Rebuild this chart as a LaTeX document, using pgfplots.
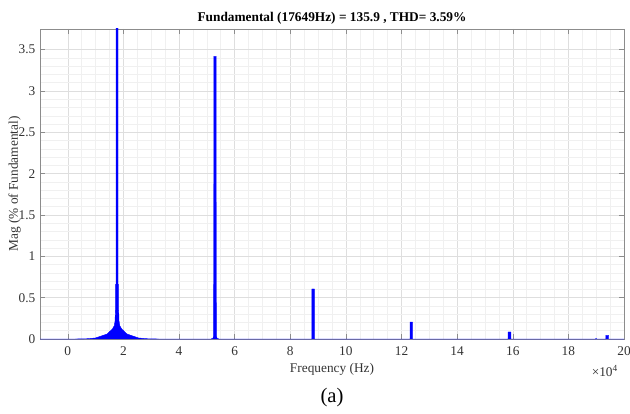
\documentclass[border=0pt]{standalone}
\usepackage{fontspec}
\setmainfont{Liberation Serif}
\usepackage{pgfplots}
\pgfplotsset{compat=1.18}
\begin{document}
\begin{tikzpicture}
\begin{axis}[
  name=ax,
  scale only axis, width=438pt, height=232.5pt,
  xmin=-1, xmax=20, ymin=0, ymax=3.75,
  xtick={0,2,...,20}, ytick={0,0.5,1,1.5,2,2.5,3,3.5},
  minor x tick num=3, minor y tick num=4,
  grid=both,
  major grid style={black!13, line width=0.4pt},
  minor grid style={black!6, line width=0.4pt},
  tick align=inside,
  major tick length=3.5pt, minor tick length=0pt,
  axis line style={black!45},
  tick style={black!45, line width=0.4pt},
  /pgf/number format/assume math mode=true,
  ticklabel style={font=\fontsize{10}{12}\selectfont, text=black!80},
  xticklabel style={yshift=-2pt},
  xlabel={Frequency (Hz)},
  xlabel style={font=\fontsize{10}{12}\selectfont, text=black!80, yshift=1pt},
  ylabel={Mag (\% of Fundamental)},
  ylabel style={font=\fontsize{10}{12}\selectfont, text=black!80, at={(rel axis cs:0,0.5)}, anchor=center, yshift=19pt},
  title={\bfseries Fundamental (17649Hz) = 135.9 , THD= 3.59\%},
  title style={font=\fontsize{10}{12}\selectfont, yshift=-6pt},
]
\addplot[draw=blue, fill=blue, line width=0.3pt] coordinates {
  (-1,0) (0.27,0) (0.67,0.003) (0.99,0.012) (1.41,0.06) (1.6,0.12) (1.67,0.16) (1.70,0.22)
  (1.71,0.34) (1.72,0.34) (1.72,0.66) (1.735,0.66) (1.735,4) (1.805,4)
  (1.805,0.66) (1.82,0.66) (1.82,0.34) (1.83,0.34) (1.84,0.22) (1.87,0.16) (1.94,0.12)
  (2.13,0.06) (2.55,0.012) (2.87,0.003) (3.27,0)
  (5.15,0) (5.22,0.01) (5.245,0.04) (5.25,3.42) (5.335,3.42) (5.34,0.04) (5.365,0.01) (5.43,0)
  (8.775,0) (8.775,0.605) (8.865,0.605) (8.865,0)
  (12.305,0) (12.305,0.205) (12.395,0.205) (12.395,0)
  (15.83,0) (15.83,0.085) (15.93,0.085) (15.93,0)
  (18.98,0) (18.98,0.006) (19.02,0.006) (19.02,0)
  (19.35,0) (19.35,0.045) (19.45,0.045) (19.45,0)
  (20,0)
};
\end{axis}
\node[anchor=base east, font=\fontsize{10}{12}\selectfont, text=black!80] at ([xshift=-1pt, yshift=-28pt]ax.south east) {×10\textsuperscript{4}};
\node[anchor=center, font=\fontsize{15.5}{18}\selectfont] at ([yshift=-44pt]ax.south) {(a)};
\pgfresetboundingbox
\path[use as bounding box] ([xshift=-30pt,yshift=-55.5pt]ax.south west) rectangle ([xshift=4.5pt,yshift=21.75pt]ax.north east);
\end{tikzpicture}
\end{document}
